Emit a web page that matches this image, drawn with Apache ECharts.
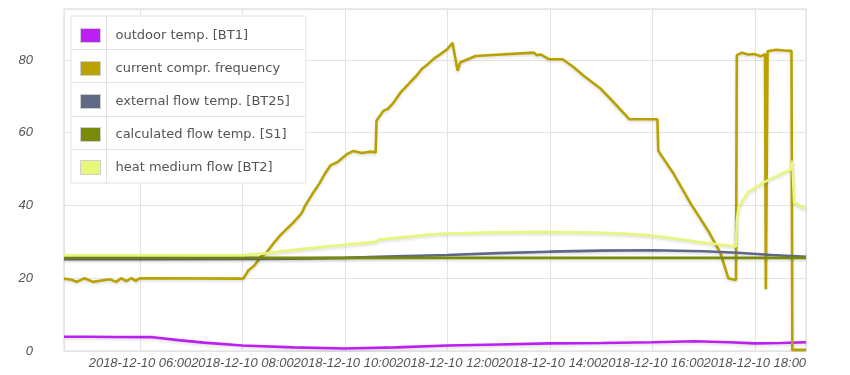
<!DOCTYPE html>
<html>
<head>
<meta charset="utf-8">
<script src="https://cdn.jsdelivr.net/npm/echarts@6/dist/echarts.min.js"></script>
<style>html,body{margin:0;padding:0;background:#fff}#c{width:850px;height:375px}</style>
</head>
<body>
<div id="c"></div>
<script>
const day = '2018-12-10';
const seriesNames = ['outdoor temp. [BT1]', 'current compr. frequency', 'external flow temp. [BT25]', 'calculated flow temp. [S1]', 'heat medium flow [BT2]'];
const seriesColors = ['#bd1ef2', '#b9a200', '#5f6986', '#7a8a08', '#e8f67a'];
const yTicks = [0, 20, 40, 60, 80];

const outdoorTemp = [
  ['04:31',3.9],['05:00',3.9],['05:30',3.85],['06:15',3.8],['06:45',3.0],['07:15',2.3],['08:00',1.5],
  ['09:00',1.0],['10:00',0.7],['11:00',1.0],['12:00',1.5],['13:00',1.8],['14:00',2.1],['15:00',2.2],
  ['16:00',2.4],['16:50',2.7],['17:30',2.4],['18:00',2.1],['18:30',2.2],['19:00',2.4]
];
const comprFrequency = [
  ['04:31',19.9],['04:40',19.6],['04:46',19.0],['04:55',20.0],['05:05',19.0],['05:15',19.4],['05:25',19.7],
  ['05:32',19.0],['05:38',20.0],['05:44',19.2],['05:50',20.0],['05:55',19.3],['06:00',20.0],['08:01',19.9],
  ['08:07',22.2],['08:14',23.5],['08:21',25.8],['08:28',27.0],['08:36',29.5],['08:45',32.0],['09:00',35.4],
  ['09:08',37.5],['09:11',38.6],['09:13',39.8],['09:22',43.2],['09:30',46.0],['09:36',48.5],['09:43',51.0],
  ['09:51',51.9],['10:03',54.2],['10:10',55.0],['10:20',54.4],['10:30',54.8],['10:36',54.6],['10:37',63.3],
  ['10:45',66.0],['10:50',66.5],['10:57',68.3],['11:05',71.0],['11:15',73.5],['11:25',76.0],['11:30',77.5],
  ['11:37',78.8],['11:45',80.5],['11:52',81.6],['12:00',83.0],['12:06',84.7],['12:08',84.5],['12:12',77.0],
  ['12:15',79.3],['12:33',81.1],['13:41',82.0],['13:45',81.3],['13:49',81.5],['13:59',80.2],['14:15',80.2],
  ['14:28',78.0],['14:40',75.6],['15:00',72.0],['15:15',68.3],['15:33',63.7],['16:06',63.7],['16:07',55.0],
  ['16:25',48.7],['16:45',40.5],['17:05',33.2],['17:20',26.8],['17:29',20.0],['17:38',19.5],['17:39',81.3],
  ['17:45',82.0],['17:52',81.5],['18:00',81.6],['18:07',81.0],['18:12',81.6],['18:13',17.0],['18:15',82.4],
  ['18:25',82.8],['18:35',82.6],['18:43',82.5],['18:44',0.3],['19:00',0.3]
];
const externalFlow = [
  ['04:31',25.2],['06:00',25.2],['08:00',25.3],['09:00',25.4],['10:00',25.6],['11:00',26.0],['12:00',26.4],
  ['13:00',26.9],['14:00',27.3],['15:00',27.6],['16:00',27.7],['17:00',27.4],['17:40',27.0],['18:20',26.4],
  ['19:00',25.9]
];
const calculatedFlow = [
  ['04:31',25.6],['08:00',25.6],['12:00',25.6],['16:00',25.6],['19:00',25.6]
];
const heatMediumFlow = [
  ['04:31',26.3],['08:00',26.3],['08:30',26.9],['09:00',27.8],['10:00',29.2],['10:36',30.0],['10:40',30.6],
  ['11:40',32.0],['12:00',32.3],['13:00',32.6],['14:00',32.7],['15:00',32.5],['15:30',32.2],['16:00',31.7],
  ['16:30',30.8],['17:00',29.8],['17:38',28.7],['17:39',35.9],['17:41',39.5],['17:52',43.6],['18:11',46.4],
  ['18:31',48.7],['18:42',49.9],['18:44',52.3],['18:46',40.9],['18:53',39.8],['19:00',39.1]
];

const allData = [outdoorTemp, comprFrequency, externalFlow, calculatedFlow, heatMediumFlow];
const toPts = arr => arr.map(p => [day + ' ' + p[0], p[1]]);

const chart = echarts.init(document.getElementById('c'), null, {renderer: 'canvas'});
const labelStyle = {color: '#545454', fontStyle: 'italic', fontFamily: 'Liberation Sans, Arial, sans-serif', fontSize: 13};
const isEvenHour = v => { const d = new Date(v); return d.getMinutes() === 0 && d.getHours() % 2 === 0; };

chart.setOption({
  animation: false,
  grid: {left: 64, right: 44, top: 9, bottom: 24, show: true, borderColor: '#d6d6d6', borderWidth: 1, containLabel: false},
  xAxis: {
    type: 'time',
    min: day + ' 04:31',
    max: day + ' 19:00',
    minInterval: 2.5 * 3600 * 1000,
    maxInterval: 2.5 * 3600 * 1000,
    axisLine: {show: false},
    axisTick: {show: false},
    splitLine: {show: true, lineStyle: {color: '#e4e4e4', width: 1}},
    axisLabel: Object.assign({}, labelStyle, {
      margin: 6,
      showMinLabel: false,
      showMaxLabel: false,
      hideOverlap: false,
      formatter: v => (isEvenHour(v) ? echarts.time.format(v, '{yyyy}-{MM}-{dd} {HH}:{mm}', false) : '')
    })
  },
  yAxis: {
    type: 'value',
    min: yTicks[0],
    max: 94,
    interval: 20,
    axisLine: {show: false},
    axisTick: {show: false},
    splitLine: {show: true, lineStyle: {color: '#e4e4e4', width: 1}},
    axisLabel: Object.assign({}, labelStyle, {
      margin: 31,
      showMaxLabel: false,
      formatter: v => (yTicks.indexOf(v) >= 0 ? String(v) : '')
    })
  },
  legend: {
    orient: 'vertical',
    left: 71,
    top: 16,
    padding: [12, 16, 8, 9],
    itemWidth: 20,
    itemHeight: 14,
    itemGap: 18,
    icon: 'rect',
    backgroundColor: '#ffffff',
    borderColor: '#e2e2e2',
    borderWidth: 1,
    selectedMode: false,
    itemStyle: {borderColor: '#cfcfcf', borderWidth: 1},
    textStyle: {color: '#545454', fontFamily: 'DejaVu Sans', fontSize: 13, lineHeight: 14, padding: [0, 0, 0, 10]},
    data: seriesNames
  },
  graphic: [
    {type: 'line', z: 100, shape: {x1: 106.5, y1: 16, x2: 106.5, y2: 183}, style: {stroke: '#e2e2e2', lineWidth: 1}},
    {type: 'line', z: 100, shape: {x1: 71, y1: 49.5, x2: 305, y2: 49.5}, style: {stroke: '#e2e2e2', lineWidth: 1}},
    {type: 'line', z: 100, shape: {x1: 71, y1: 82.5, x2: 305, y2: 82.5}, style: {stroke: '#e2e2e2', lineWidth: 1}},
    {type: 'line', z: 100, shape: {x1: 71, y1: 116.5, x2: 305, y2: 116.5}, style: {stroke: '#e2e2e2', lineWidth: 1}},
    {type: 'line', z: 100, shape: {x1: 71, y1: 149.5, x2: 305, y2: 149.5}, style: {stroke: '#e2e2e2', lineWidth: 1}}
  ],
  series: allData.map((d, i) => ({
    name: seriesNames[i],
    type: 'line',
    data: toPts(d),
    showSymbol: false,
    symbol: 'none',
    color: seriesColors[i],
    lineStyle: {width: 2.6, color: seriesColors[i], shadowColor: 'rgba(0,0,0,0.15)', shadowBlur: 3, shadowOffsetY: 1.5},
    emphasis: {disabled: true},
    z: 2 + i
  }))
});
</script>
</body>
</html>
